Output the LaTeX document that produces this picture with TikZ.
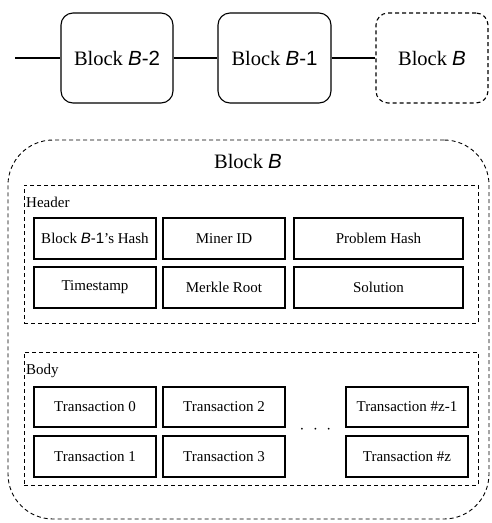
\documentclass[tikz,border=0pt]{standalone}
\usepackage{fontspec}
\setmainfont{Liberation Serif}
\newfontfamily\sfb{Liberation Sans}
\newcommand{\bvar}[1]{{\sfb\textit{B}#1}}
\begin{document}
\begin{tikzpicture}[x=1pt,y=-1pt,
  dsh/.style={dash pattern=on 4pt off 3pt},
  chainblk/.style={draw, line width=1.1pt, rounded corners=12pt, minimum width=112pt, minimum height=90pt, font=\fontsize{20.5}{24}\selectfont, inner sep=0pt},
  fieldbox/.style={draw, line width=1.3pt, minimum height=41pt, inner sep=0pt, font=\fontsize{15}{18}\selectfont},
  grp/.style={draw, dsh, line width=0.9pt, inner sep=0pt},
  lbl/.style={anchor=west, inner sep=0pt, font=\fontsize{15}{18}\selectfont},
  link/.style={line width=2pt}
]
\useasboundingbox (0,0) rectangle (491,523);
% chain
\coordinate (start) at (15,58);
\node[chainblk] (b2) at (117,58) {Block \bvar{-2}};
\node[chainblk, minimum width=113pt] (b1) at (274.5,58) {Block \bvar{-1}};
\node[chainblk, dsh] (b0) at (432,58) {Block \bvar{}};
\draw[link] (start) -- (b2.west);
\draw[link] (b2.east) -- (b1.west);
\draw[link] (b1.east) -- (b0.west);
% big block
\node[grp, rounded corners=45pt, minimum width=481pt, minimum height=379pt] (big) at (248.5,329.5) {};
\node[font=\fontsize{20.5}{24}\selectfont] (title) at (248,161) {Block \bvar{}};
% header
\node[grp, minimum width=454pt, minimum height=138pt] (hdr) at (251,254) {};
\node[lbl] (hdrl) at (26,202) {Header};
\node[fieldbox, minimum width=122pt] (h1) at (95,238.5) {Block \bvar{-1}'s Hash};
\node[fieldbox, minimum width=122pt] (h2) at (224,238.5) {Miner ID};
\node[fieldbox, minimum width=169pt] (h3) at (378.5,238.5) {Problem Hash};
\node[fieldbox, minimum width=122pt] (h4) at (95,287.5) {Timestamp};
\node[fieldbox, minimum width=122pt] (h5) at (224,287.5) {Merkle Root};
\node[fieldbox, minimum width=169pt] (h6) at (378.5,287.5) {Solution};
% body
\node[grp, minimum width=454pt, minimum height=133pt] (bdy) at (251,418.5) {};
\node[lbl] (bdyl) at (26,371) {Body};
\node[fieldbox, minimum width=122pt, minimum height=40pt] (t0) at (95,407) {Transaction 0};
\node[fieldbox, minimum width=122pt, minimum height=40pt] (t2) at (224,407) {Transaction 2};
\node[fieldbox, minimum width=122pt, minimum height=40pt] (tz1) at (407,407) {Transaction \#z-1};
\node[fieldbox, minimum width=122pt] (t1) at (95,456.5) {Transaction 1};
\node[fieldbox, minimum width=122pt] (t3) at (224,456.5) {Transaction 3};
\node[fieldbox, minimum width=122pt] (tz) at (407,456.5) {Transaction \#z};
\node[font=\fontsize{18}{20}\selectfont] (dots) at (315.5,430) {$\cdot\;\cdot\;\cdot$};
\end{tikzpicture}
\end{document}
